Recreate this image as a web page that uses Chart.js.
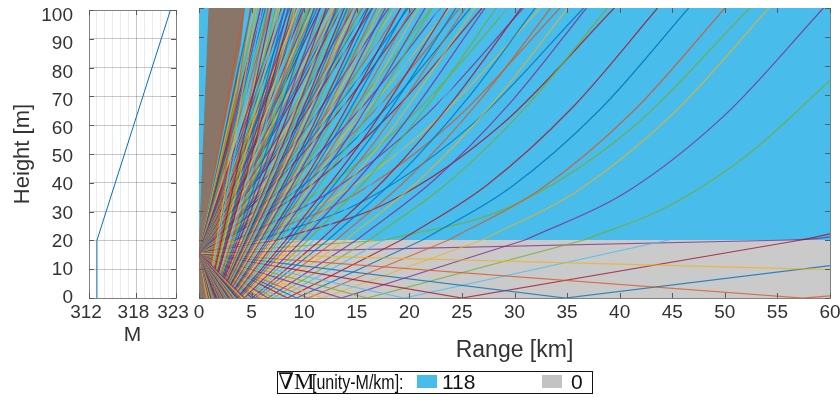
<!DOCTYPE html>
<html><head><meta charset="utf-8">
<script src="https://cdn.jsdelivr.net/npm/chart.js@4.4.1/dist/chart.umd.min.js"></script>
<style>
html,body{margin:0;padding:0;background:#fff;}
body{width:840px;height:405px;overflow:hidden;position:relative;font-family:'Liberation Sans',Arial,sans-serif;}
.cv{position:absolute;left:0;top:0;width:840px;height:405px;}
#legend{position:absolute;left:277px;top:371px;width:316px;height:23px;box-sizing:border-box;border:1.5px solid #111;color:#111;}
#legend span,#legend i{position:absolute;top:0;line-height:20px;white-space:nowrap;}
#lgSym{left:0;font-family:'Liberation Serif','DejaVu Serif',serif;font-size:23px;}
#lgUnit{left:34px;font-size:20px;transform:scaleX(0.8);transform-origin:0 50%;}
#legend i{top:3px;width:20px;height:13px;}
#sw0{left:139px;} #sw1{left:264px;}
#lv0{left:164px;font-size:21px;} #lv1{left:293px;font-size:21px;}
</style></head>
<body>
<div class="cv"><canvas id="c1" width="840" height="405"></canvas></div>
<div class="cv"><canvas id="c2" width="840" height="405"></canvas></div>
<div id="legend"><span id="lgSym"></span><span id="lgUnit"></span><i id="sw0"></i><span id="lv0"></span><i id="sw1"></i><span id="lv1"></span></div>
<script>
// ---------- data ----------
const heightTicks = [0,10,20,30,40,50,60,70,80,90,100];
const rangeTicks = [0,5,10,15,20,25,30,35,40,45,50,55,60];
const mTicks = [312,318,323];
const profileM = [313, 313, 322.3];
const profileH = [0, 20, 100];
const layerTops = [20, 100];          // lower layer 0-20 m, upper layer 20-100 m
const layerGradients = [118, 0];      // upper, lower  (unity-M/km)
const legendSymbol = '\u2207M';
const legendUnit = '[unity-M/km]:';
// dense fan of steep rays near the source (km, m)
const fanOutline = [0,0, 0,15.5, 0.96,100, 4.3,100, 3.4,68, 2.6,45, 1.5,20, 1.1,10, 0.85,0];
// rays: [ray number, lower-layer path (km,m pairs), upper-layer path]
const directRays = [
 [0,[0,15.5,56.25,20],[56.25,20,57.5,20.2,58.75,20.5,60,21.1]],
 [1,[0,15.5,17.65,20],[17.65,20,29.23,30.9,40.8,57.5,52.38,100]],
 [2,[0,15.5,10.47,20],[10.47,20,21.59,32.1,32.71,58.7,43.83,100]],
 [3,[0,15.5,7.44,20],[7.44,20,18.12,33.2,28.81,59.9,39.49,100]],
 [4,[0,15.5,5.77,20],[5.77,20,16.04,34.2,26.3,60.9,36.57,100]],
 [5,[0,15.5,4.71,20],[4.71,20,14.58,35.2,24.45,61.8,34.32,100]],
 [6,[0,15.5,3.98,20],[3.98,20,13.47,36.0,22.96,62.7,32.45,100]],
 [7,[0,15.5,3.45,20],[3.45,20,12.58,36.8,21.71,63.5,30.84,100]],
 [8,[0,15.5,3.04,20],[3.04,20,11.83,37.6,20.61,64.2,29.4,100]],
 [9,[0,15.5,2.72,20],[2.72,20,11.18,38.2,19.64,64.9,28.1,100]],
 [10,[0,15.5,2.46,20],[2.46,20,10.61,38.8,18.76,65.5,26.91,100]],
 [11,[0,15.5,2.24,20],[2.24,20,10.09,39.4,17.95,66.1,25.8,100]],
 [12,[0,15.5,2.06,20],[2.06,20,9.63,39.9,17.21,66.6,24.78,100]],
 [13,[0,15.5,1.91,20],[1.91,20,9.22,40.4,16.53,67.0,23.84,100]],
 [14,[0,15.5,1.78,20],[1.78,20,8.84,40.8,15.89,67.5,22.95,100]],
 [15,[0,15.5,1.66,20],[1.66,20,8.48,41.2,15.29,67.8,22.11,100]],
 [16,[0,15.5,1.56,20],[1.56,20,8.15,41.5,14.74,68.2,21.33,100]],
 [17,[0,15.5,1.47,20],[1.47,20,7.84,41.9,14.22,68.5,20.59,100]],
 [18,[0,15.5,1.39,20],[1.39,20,7.56,42.2,13.73,68.8,19.9,100]],
 [19,[0,15.5,1.32,20],[1.32,20,7.3,42.5,13.27,69.1,19.25,100]],
 [20,[0,15.5,1.26,20],[1.26,20,7.05,42.7,12.84,69.4,18.63,100]]
];
const steepDirectRays = [
 [21,[0,15.5,1.2,20],[1.2,20,9.62,55.8,18.05,100]],
 [22,[0,15.5,1.15,20],[1.15,20,9.32,56.1,17.49,100]],
 [23,[0,15.5,1.1,20],[1.1,20,9.03,56.3,16.96,100]],
 [24,[0,15.5,1.05,20],[1.05,20,8.76,56.5,16.47,100]],
 [25,[0,15.5,1.01,20],[1.01,20,8.5,56.7,15.99,100]],
 [26,[0,15.5,0.97,20],[0.97,20,8.26,56.9,15.55,100]],
 [27,[0,15.5,0.94,20],[0.94,20,8.03,57.0,15.12,100]],
 [28,[0,15.5,0.9,20],[0.9,20,7.8,57.2,14.7,100]],
 [29,[0,15.5,0.87,20],[0.87,20,7.6,57.3,14.32,100]],
 [30,[0,15.5,0.84,20],[0.84,20,7.4,57.5,13.95,100]],
 [31,[0,15.5,0.82,20],[0.82,20,7.21,57.6,13.61,100]],
 [32,[0,15.5,0.79,20],[0.79,20,7.03,57.7,13.26,100]],
 [33,[0,15.5,0.77,20],[0.77,20,6.85,57.8,12.94,100]],
 [34,[0,15.5,0.75,20],[0.75,20,6.69,57.9,12.63,100]],
 [35,[0,15.5,0.73,20],[0.73,20,6.53,58.0,12.34,100]],
 [36,[0,15.5,0.71,20],[0.71,20,6.38,58.1,12.05,100]],
 [37,[0,15.5,0.69,20],[0.69,20,6.24,58.2,11.79,100]],
 [38,[0,15.5,0.67,20],[0.67,20,6.1,58.3,11.53,100]],
 [39,[0,15.5,0.65,20],[0.65,20,5.96,58.3,11.27,100]],
 [40,[0,15.5,0.64,20],[0.64,20,5.84,58.4,11.04,100]],
 [41,[0,15.5,0.62,20],[0.62,20,5.72,58.5,10.81,100]],
 [42,[0,15.5,0.61,20],[0.61,20,5.6,58.5,10.58,100]],
 [43,[0,15.5,0.59,20],[0.59,20,5.48,58.6,10.37,100]],
 [44,[0,15.5,0.58,20],[0.58,20,5.37,58.6,10.16,100]],
 [45,[0,15.5,0.57,20],[0.57,20,5.27,58.7,9.97,100]],
 [46,[0,15.5,0.55,20],[0.55,20,5.16,58.7,9.77,100]],
 [47,[0,15.5,0.54,20],[0.54,20,5.07,58.8,9.59,100]],
 [48,[0,15.5,0.53,20],[0.53,20,4.97,58.8,9.41,100]],
 [49,[0,15.5,0.52,20],[0.52,20,4.89,58.9,9.25,100]],
 [50,[0,15.5,0.51,20],[0.51,20,4.8,58.9,9.08,100]],
 [53,[0,15.5,0.48,20],[0.48,20,4.55,59.1,8.62,100]],
 [56,[0,15.5,0.46,20],[0.46,20,4.33,59.1,8.19,100]],
 [59,[0,15.5,0.43,20],[0.43,20,4.12,59.2,7.81,100]],
 [62,[0,15.5,0.41,20],[0.41,20,3.94,59.3,7.46,100]],
 [65,[0,15.5,0.39,20],[0.39,20,3.77,59.3,7.14,100]],
 [68,[0,15.5,0.38,20],[0.38,20,3.61,59.4,6.85,100]],
 [71,[0,15.5,0.36,20],[0.36,20,3.47,59.5,6.58,100]],
 [74,[0,15.5,0.35,20],[0.35,20,3.33,59.4,6.32,100]],
 [77,[0,15.5,0.33,20],[0.33,20,3.21,59.5,6.08,100]],
 [80,[0,15.5,0.32,20],[0.32,20,3.1,59.5,5.87,100]],
 [85,[0,15.5,0.3,20],[0.3,20,2.92,59.6,5.54,100]],
 [90,[0,15.5,0.28,20],[0.28,20,2.77,59.7,5.25,100]],
 [95,[0,15.5,0.27,20],[0.27,20,2.62,59.7,4.98,100]],
 [100,[0,15.5,0.26,20],[0.26,20,2.5,59.7,4.74,100]],
 [110,[0,15.5,0.23,20],[0.23,20,2.27,59.7,4.31,100]]
];
const reflectedRays = [
 [-1,[0,15.5,60,9.8],[]],
 [-2,[0,15.5,57.41,0,60,0.7],[]],
 [-3,[0,15.5,34.83,0,60,11.2],[]],
 [-4,[0,15.5,25.0,0,57.26,20],[57.26,20,58.63,21.0,60,22.1]],
 [-5,[0,15.5,19.5,0,44.65,20],[44.65,20,49.77,25.6,54.88,34.3,60,46.1]],
 [-6,[0,15.5,15.98,0,36.6,20],[36.6,20,44.4,31.2,52.2,49.5,60,75.0]],
 [-7,[0,15.5,13.54,0,31.0,20],[31.0,20,40.46,36.1,49.92,62.8,59.38,100]],
 [-8,[0,15.5,11.74,0,26.89,20],[26.89,20,35.99,36.9,45.09,63.6,54.19,100]],
 [-9,[0,15.5,10.37,0,23.75,20],[23.75,20,32.51,37.6,41.26,64.3,50.02,100]],
 [-10,[0,15.5,9.28,0,21.26,20],[21.26,20,29.69,38.3,38.13,65.0,46.56,100]],
 [-11,[0,15.5,8.4,0,19.24,20],[19.24,20,27.36,38.9,35.49,65.6,43.61,100]],
 [-12,[0,15.5,7.67,0,17.57,20],[17.57,20,25.4,39.4,33.23,66.1,41.06,100]],
 [-13,[0,15.5,7.06,0,16.17,20],[16.17,20,23.72,39.9,31.27,66.6,38.82,100]],
 [-14,[0,15.5,6.54,0,14.98,20],[14.98,20,22.27,40.4,29.55,67.1,36.84,100]],
 [-15,[0,15.5,6.09,0,13.95,20],[13.95,20,20.99,40.8,28.02,67.5,35.06,100]],
 [-16,[0,15.5,5.7,0,13.05,20],[13.05,20,19.85,41.2,26.64,67.9,33.44,100]],
 [-17,[0,15.5,5.35,0,12.26,20],[12.26,20,18.83,41.6,25.4,68.2,31.97,100]],
 [-18,[0,15.5,5.05,0,11.56,20],[11.56,20,17.92,41.9,24.27,68.6,30.63,100]],
 [-19,[0,15.5,4.78,0,10.94,20],[10.94,20,17.09,42.2,23.25,68.9,29.4,100]],
 [-20,[0,15.5,4.53,0,10.38,20],[10.38,20,16.34,42.5,22.3,69.2,28.26,100]]
];
const steepReflectedRays = [
 [-21,[0,15.5,4.31,0,9.87,20],[9.87,20,18.53,55.6,27.19,100]],
 [-22,[0,15.5,4.11,0,9.42,20],[9.42,20,17.82,55.8,26.22,100]],
 [-23,[0,15.5,3.93,0,9.0,20],[9.0,20,17.16,56.1,25.31,100]],
 [-24,[0,15.5,3.76,0,8.62,20],[8.62,20,16.54,56.3,24.45,100]],
 [-25,[0,15.5,3.61,0,8.27,20],[8.27,20,15.96,56.5,23.65,100]],
 [-26,[0,15.5,3.47,0,7.94,20],[7.94,20,15.42,56.7,22.89,100]],
 [-27,[0,15.5,3.34,0,7.64,20],[7.64,20,14.91,56.9,22.18,100]],
 [-28,[0,15.5,3.22,0,7.37,20],[7.37,20,14.44,57.0,21.51,100]],
 [-29,[0,15.5,3.1,0,7.11,20],[7.11,20,13.99,57.2,20.88,100]],
 [-30,[0,15.5,3.0,0,6.87,20],[6.87,20,13.58,57.4,20.29,100]],
 [-31,[0,15.5,2.9,0,6.64,20],[6.64,20,13.18,57.5,19.72,100]],
 [-32,[0,15.5,2.81,0,6.43,20],[6.43,20,12.81,57.6,19.18,100]],
 [-33,[0,15.5,2.72,0,6.23,20],[6.23,20,12.45,57.7,18.67,100]],
 [-34,[0,15.5,2.64,0,6.05,20],[6.05,20,12.12,57.8,18.19,100]],
 [-35,[0,15.5,2.56,0,5.87,20],[5.87,20,11.8,57.9,17.73,100]],
 [-36,[0,15.5,2.49,0,5.71,20],[5.71,20,11.5,58.0,17.29,100]],
 [-37,[0,15.5,2.42,0,5.55,20],[5.55,20,11.22,58.1,16.88,100]],
 [-38,[0,15.5,2.36,0,5.4,20],[5.4,20,10.94,58.2,16.48,100]],
 [-39,[0,15.5,2.3,0,5.26,20],[5.26,20,10.68,58.3,16.1,100]],
 [-40,[0,15.5,2.24,0,5.13,20],[5.13,20,10.43,58.3,15.73,100]],
 [-41,[0,15.5,2.18,0,5.0,20],[5.0,20,10.19,58.4,15.38,100]],
 [-42,[0,15.5,2.13,0,4.88,20],[4.88,20,9.96,58.5,15.04,100]],
 [-43,[0,15.5,2.08,0,4.77,20],[4.77,20,9.75,58.5,14.73,100]],
 [-44,[0,15.5,2.03,0,4.66,20],[4.66,20,9.54,58.6,14.42,100]],
 [-45,[0,15.5,1.99,0,4.55,20],[4.55,20,9.34,58.7,14.12,100]],
 [-46,[0,15.5,1.94,0,4.45,20],[4.45,20,9.14,58.7,13.83,100]],
 [-47,[0,15.5,1.9,0,4.36,20],[4.36,20,8.96,58.7,13.56,100]],
 [-48,[0,15.5,1.86,0,4.27,20],[4.27,20,8.79,58.8,13.3,100]],
 [-49,[0,15.5,1.82,0,4.18,20],[4.18,20,8.62,58.8,13.05,100]],
 [-50,[0,15.5,1.79,0,4.09,20],[4.09,20,8.45,58.9,12.8,100]],
 [-53,[0,15.5,1.69,0,3.86,20],[3.86,20,7.99,59.0,12.12,100]],
 [-56,[0,15.5,1.59,0,3.65,20],[3.65,20,7.58,59.1,11.51,100]],
 [-59,[0,15.5,1.51,0,3.47,20],[3.47,20,7.21,59.2,10.95,100]],
 [-62,[0,15.5,1.44,0,3.3,20],[3.3,20,6.88,59.3,10.45,100]],
 [-65,[0,15.5,1.37,0,3.14,20],[3.14,20,6.56,59.3,9.98,100]],
 [-68,[0,15.5,1.31,0,3.0,20],[3.0,20,6.28,59.3,9.55,100]],
 [-71,[0,15.5,1.26,0,2.88,20],[2.88,20,6.03,59.4,9.17,100]],
 [-74,[0,15.5,1.2,0,2.76,20],[2.76,20,5.79,59.5,8.81,100]],
 [-77,[0,15.5,1.16,0,2.65,20],[2.65,20,5.56,59.5,8.47,100]],
 [-80,[0,15.5,1.11,0,2.55,20],[2.55,20,5.36,59.6,8.17,100]],
 [-85,[0,15.5,1.05,0,2.4,20],[2.4,20,5.05,59.6,7.7,100]],
 [-90,[0,15.5,0.99,0,2.27,20],[2.27,20,4.78,59.6,7.28,100]],
 [-95,[0,15.5,0.94,0,2.15,20],[2.15,20,4.53,59.6,6.9,100]],
 [-100,[0,15.5,0.89,0,2.04,20],[2.04,20,4.31,59.8,6.57,100]],
 [-110,[0,15.5,0.81,0,1.85,20],[1.85,20,3.92,59.8,5.98,100]],
 [-120,[0,15.5,0.74,0,1.7,20],[1.7,20,3.59,59.8,5.48,100]],
 [-135,[0,15.5,0.66,0,1.51,20],[1.51,20,3.2,59.8,4.88,100]]
];

// ---------- styles ----------
const palette = ['rgba(0,114,189,0.8)','rgba(217,83,25,0.75)','rgba(237,177,32,0.75)','rgba(126,47,142,0.8)',
                 'rgba(119,172,48,0.8)','rgba(77,190,238,0.85)','rgba(162,20,47,0.8)'];
const upperColor = '#48BCEB', lowerColor = '#CACACA', fanColor = '#897668';
const textColor = '#333333', boxColor = '#808080';
const gridMajor = 'rgba(0,0,0,0.15)', gridMinor = 'rgba(0,0,0,0.08)';
Chart.defaults.font.family = "'Liberation Sans', Arial, sans-serif";
Chart.defaults.color = textColor;

function rayColor(n){ return palette[(((n + 3) % 7) + 7) % 7]; }
function pts(flat){ const a = []; for (let i = 0; i < flat.length; i += 2) a.push({x: flat[i], y: flat[i+1]}); return a; }
function fix(size){
  return s => {
    if (s.isHorizontal()) s.height = size; else s.width = size;
    s.paddingTop = s.paddingBottom = s.paddingLeft = s.paddingRight = 0;
  };
}
function setTicks(list){ return s => { s.ticks = list.map(v => ({value: v})); }; }

const inwardTicks = {
  id: 'inwardTicks',
  afterDraw(chart){
    const {ctx, chartArea: a, scales} = chart;
    const xs = scales.x, ys = scales.y, L = 5;
    ctx.save(); ctx.strokeStyle = '#5a5a5a'; ctx.lineWidth = 1; ctx.beginPath();
    xs.ticks.forEach(t => { const p = Math.round(xs.getPixelForValue(t.value)) + 0.5;
      ctx.moveTo(p, a.bottom); ctx.lineTo(p, a.bottom - L); ctx.moveTo(p, a.top); ctx.lineTo(p, a.top + L); });
    ys.ticks.forEach(t => { const p = Math.round(ys.getPixelForValue(t.value)) + 0.5;
      ctx.moveTo(a.left, p); ctx.lineTo(a.left + L, p); ctx.moveTo(a.right, p); ctx.lineTo(a.right - L, p); });
    ctx.stroke(); ctx.restore();
  }
};

function minorAxis(pos, min, max, step, size){
  return { type: 'linear', position: pos, min, max, z: 1,
    ticks: {display: false, stepSize: step},
    grid: {color: gridMinor, drawTicks: false, lineWidth: 1},
    border: {display: true, color: boxColor, width: 1},
    afterFit: fix(size) };
}

// ---------- left panel: M profile ----------
new Chart(document.getElementById('c1'), {
  type: 'line',
  data: { datasets: [{
    data: profileM.map((m, i) => ({x: m, y: profileH[i]})),
    borderColor: '#0072BD', borderWidth: 1, pointRadius: 0, tension: 0, fill: false
  }]},
  options: {
    responsive: false, animation: false, events: [], devicePixelRatio: 1,
    layout: {padding: {left: 0, top: 10, right: 664, bottom: 57}},
    plugins: {legend: {display: false}, tooltip: {enabled: false}},
    scales: {
      x: { type: 'linear', position: 'bottom', min: 312, max: 323, z: 1,
        afterBuildTicks: setTicks(mTicks),
        ticks: {font: {size: 19}, padding: 3, color: textColor, labelOffset: -3},
        grid: {color: gridMajor, drawTicks: false},
        border: {display: true, color: boxColor, width: 1},
        title: {display: true, text: 'M', font: {size: 21}, padding: 0, color: textColor},
        afterFit: fix(50) },
      y: { type: 'linear', position: 'left', min: 0, max: 100, z: 1, weight: 0,
        afterBuildTicks: setTicks(heightTicks),
        ticks: {display: false},
        grid: {color: gridMajor, drawTicks: false},
        border: {display: true, color: boxColor, width: 1},
        afterFit: fix(0) },
      yLabels: { type: 'linear', position: 'left', min: 0, max: 102.1, z: 1, weight: 1,
        afterBuildTicks: setTicks(heightTicks),
        ticks: {font: {size: 19}, padding: 16, color: textColor},
        grid: {display: false, drawTicks: false},
        border: {display: false},
        title: {display: true, text: 'Height [m]', font: {size: 22}, padding: {top: 10, bottom: 0}, color: textColor},
        afterFit: fix(89) },
      xMinor: minorAxis('top', 312, 323, 1, 0),
      yMinor: minorAxis('right', 0, 100, 10, 0)
    }
  },
  plugins: [inwardTicks]
});

// ---------- right panel: ray trace ----------
const datasets = [];
datasets.push({ data: [{x: 0, y: layerTops[1]}, {x: 60, y: layerTops[1]}], fill: {value: layerTops[0]},
  backgroundColor: upperColor, borderWidth: 0, pointRadius: 0, order: 1000 });
datasets.push({ data: [{x: 0, y: layerTops[0]}, {x: 60, y: layerTops[0]}], fill: 'origin',
  backgroundColor: lowerColor, borderWidth: 0, pointRadius: 0, order: 999 });
datasets.push({ data: pts(fanOutline), fill: 'shape', backgroundColor: fanColor,
  borderColor: fanColor, borderWidth: 1, pointRadius: 0, tension: 0, order: 998 });
const allRays = [...steepReflectedRays, ...steepDirectRays, ...reflectedRays, ...directRays];
allRays.forEach(r => {
  const c = rayColor(r[0]);
  datasets.push({ data: pts(r[1]), borderColor: c, borderWidth: 1.25, pointRadius: 0, tension: 0, fill: false, order: 0 });
  if (r[2].length) datasets.push({ data: pts(r[2]), borderColor: c, borderWidth: 1.25, pointRadius: 0,
    cubicInterpolationMode: 'monotone', fill: false, order: 0 });
});

new Chart(document.getElementById('c2'), {
  type: 'line',
  data: { datasets },
  options: {
    responsive: false, animation: false, events: [], devicePixelRatio: 1,
    layout: {padding: {left: 0, top: 8, right: 10, bottom: 41}},
    plugins: {legend: {display: false}, tooltip: {enabled: false}},
    scales: {
      x: { type: 'linear', position: 'bottom', min: 0, max: 60, z: 1,
        afterBuildTicks: setTicks(rangeTicks),
        ticks: {font: {size: 19}, padding: 3, color: textColor, maxRotation: 0, autoSkip: false},
        grid: {color: gridMajor, drawTicks: false},
        border: {display: true, color: boxColor, width: 1},
        title: {display: true, text: 'Range [km]', font: {size: 23}, padding: 0, color: textColor},
        afterFit: fix(66) },
      y: { type: 'linear', position: 'left', min: 0, max: 100, z: 1,
        afterBuildTicks: setTicks(heightTicks),
        ticks: {display: false},
        grid: {color: gridMajor, drawTicks: false},
        border: {display: true, color: boxColor, width: 1},
        afterFit: fix(199) },
      xMinor: minorAxis('top', 0, 60, 1, 0),
      yMinor: minorAxis('right', 0, 100, 2, 0)
    }
  },
  plugins: [inwardTicks]
});

// ---------- legend ----------
document.getElementById('lgSym').textContent = legendSymbol;
document.getElementById('lgUnit').textContent = legendUnit;
document.getElementById('sw0').style.background = upperColor;
document.getElementById('sw1').style.background = '#C3C3C3';
document.getElementById('lv0').textContent = String(layerGradients[0]);
document.getElementById('lv1').textContent = String(layerGradients[1]);
</script>
</body></html>
